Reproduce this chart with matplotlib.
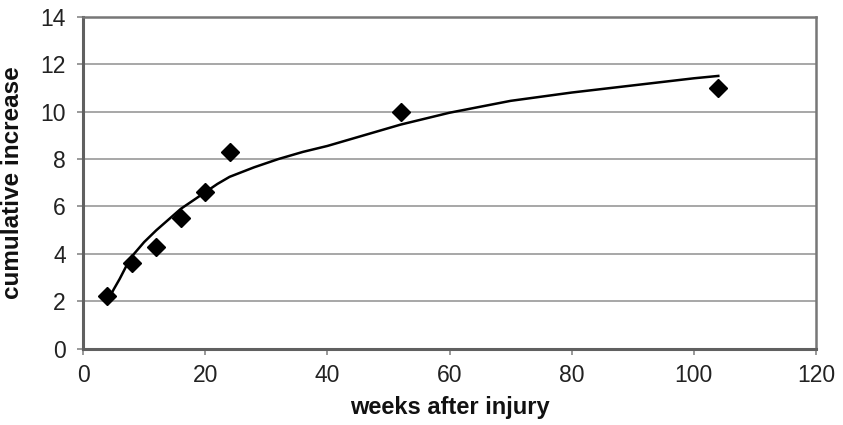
import matplotlib
matplotlib.use("Agg")
from matplotlib import pyplot as plt

# measured points
weeks = [4, 8, 12, 16, 20, 24, 52, 104]
increase = [2.25, 3.6, 4.3, 5.5, 6.6, 8.3, 10.0, 11.0]

# trend line
trend_weeks = [4, 5, 6, 7, 8, 10, 12, 14, 16, 18, 20, 22, 24, 28, 32, 36, 40, 46, 52,
               60, 70, 80, 90, 100, 104]
trend_vals = [2.0, 2.5, 2.95, 3.45, 3.9, 4.5, 5.0, 5.45, 5.9, 6.25, 6.6, 6.95, 7.25,
              7.65, 8.0, 8.3, 8.55, 9.0, 9.45, 9.95, 10.45, 10.8, 11.1, 11.4, 11.5]

x_ticks = [0, 20, 40, 60, 80, 100, 120]
y_ticks = [0, 2, 4, 6, 8, 10, 12, 14]

plt.rcParams['font.family'] = ['Liberation Sans', 'DejaVu Sans']

fig = plt.figure(figsize=(8.43, 4.25), dpi=100)
ax = fig.add_axes([0.0985, 0.179, 0.8695, 0.782])

for y in y_ticks[1:-1]:
    ax.axhline(y, color='#a0a0a0', lw=1.3, zorder=1)

ax.plot(trend_weeks, trend_vals, color='black', lw=1.8, zorder=2)
ax.plot(weeks, increase, 'D', color='black', markersize=9, zorder=3)

ax.set_xlim(0, 120)
ax.set_ylim(0, 14)
ax.set_xticks(x_ticks)
ax.set_yticks(y_ticks)
ax.tick_params(axis='both', labelsize=16.5, color='#888888', length=4.5, width=1.2,
               labelcolor='#222222')
ax.tick_params(axis='x', pad=6)
ax.tick_params(axis='y', pad=8)

for side in ['left', 'bottom']:
    ax.spines[side].set_color('#606060')
    ax.spines[side].set_linewidth(2.2)
for side in ['top', 'right']:
    ax.spines[side].set_color('#777777')
    ax.spines[side].set_linewidth(1.8)

ax.set_xlabel('weeks after injury', fontsize=17, fontweight='bold', labelpad=7,
              color='#111111')
ax.set_ylabel('cumulative increase', fontsize=17.5, fontweight='bold', labelpad=12,
              color='#111111')

fig.savefig('out.png', dpi=100)
